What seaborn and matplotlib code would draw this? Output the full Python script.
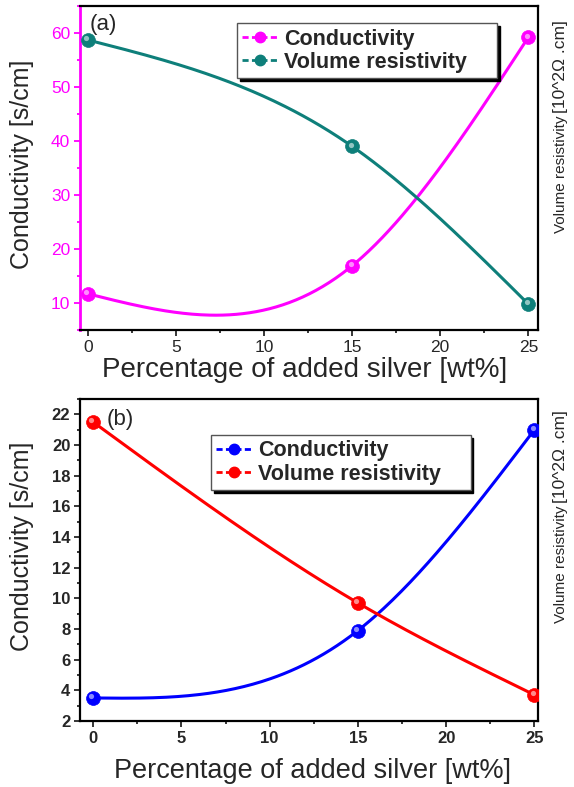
import numpy as np
import matplotlib
matplotlib.use("Agg")
import matplotlib.pyplot as plt
import matplotlib.transforms as mtransforms
from matplotlib.lines import Line2D
from matplotlib.ticker import MultipleLocator
import seaborn as sns

# === Datos ===
plata = [0, 15, 25]
cond_a = [11.7, 16.9, 59.2]
resis_a = [58.7, 39.0, 9.8]
cond_b = [3.5, 7.9, 21.0]
resis_b = [21.5, 9.7, 3.7]

ticks_x = [0, 5, 10, 15, 20, 25]
ticks_ya = [10, 20, 30, 40, 50, 60]
ticks_yb = [2, 4, 6, 8, 10, 12, 14, 16, 18, 20, 22]

sns.set_style("ticks")
plt.rcParams['font.family'] = ['Liberation Sans', 'DejaVu Sans']

MAGENTA = '#FF00FF'
TEAL = '#0E7F7A'
AZUL = '#0000FF'
ROJO = '#FF0000'


def spline_natural(x, y, n=200):
    # spline cúbico natural, como la conexión "spline" de Origin
    x = np.asarray(x, float)
    y = np.asarray(y, float)
    h = np.diff(x)
    k = len(x)
    A = np.zeros((k, k))
    r = np.zeros(k)
    A[0, 0] = A[-1, -1] = 1
    for i in range(1, k - 1):
        A[i, i - 1] = h[i - 1]
        A[i, i] = 2 * (h[i - 1] + h[i])
        A[i, i + 1] = h[i]
        r[i] = 6 * ((y[i + 1] - y[i]) / h[i] - (y[i] - y[i - 1]) / h[i - 1])
    M = np.linalg.solve(A, r)
    xs = np.linspace(x[0], x[-1], n)
    idx = np.clip(np.searchsorted(x, xs) - 1, 0, k - 2)
    x0, x1 = x[idx], x[idx + 1]
    hh = x1 - x0
    ys = ((M[idx] * (x1 - xs) ** 3 + M[idx + 1] * (xs - x0) ** 3) / (6 * hh)
          + (y[idx] / hh - M[idx] * hh / 6) * (x1 - xs)
          + (y[idx + 1] / hh - M[idx + 1] * hh / 6) * (xs - x0))
    return xs, ys


def serie(ax, fig, x, y, color):
    xs, ys = spline_natural(x, y)
    sns.lineplot(x=xs, y=ys, ax=ax, color=color, lw=2.2, sort=False, zorder=2)
    sns.scatterplot(x=x, y=y, ax=ax, color=color, s=100, edgecolor=color,
                    linewidth=0.5, zorder=3)
    brillo = mtransforms.offset_copy(ax.transData, fig=fig, x=-1.2, y=1.2, units='points')
    ax.scatter(x, y, s=14, color='white', alpha=0.55, transform=brillo,
               zorder=4, linewidths=0)


def leyenda(ax, c1, c2, x0, y0):
    h = [Line2D([], [], color=c1, ls=(0, (2.2, 1.2)), lw=2, marker='o', ms=7.5),
         Line2D([], [], color=c2, ls=(0, (2.2, 1.2)), lw=2, marker='o', ms=7.5)]
    ax.legend(h, ['Conductivity', 'Volume resistivity    '], loc='upper left',
              bbox_to_anchor=(x0, y0), borderaxespad=0, fancybox=False,
              shadow={'color': 'black', 'alpha': 1}, framealpha=1,
              edgecolor='#555555', handlelength=1.6, handletextpad=0.35,
              labelspacing=0.1, borderpad=0.25,
              prop={'weight': 'bold', 'size': 15.5})


def etiqueta_derecha(fig, y_base, y_tope):
    fig.text(0.977, 1 - y_base / 787, 'Volume resistivity', rotation=90,
             fontsize=11, ha='center', va='bottom')
    fig.text(0.977, 1 - y_tope / 787, '[10^2Ω .cm]', rotation=90,
             fontsize=12.5, ha='center', va='top')


fig = plt.figure(figsize=(5.74, 7.87), dpi=100)
ax1 = fig.add_axes([0.1394, 0.5807, 0.7979, 0.4117])
ax2 = fig.add_axes([0.1394, 0.0839, 0.7979, 0.4091])

# === Panel (a) ===
serie(ax1, fig, plata, cond_a, MAGENTA)
serie(ax1, fig, plata, resis_a, TEAL)
ax1.set_xlim(-0.45, 25.55)
ax1.set_ylim(5, 65)
ax1.set_xticks(ticks_x)
ax1.set_yticks(ticks_ya)
ax1.xaxis.set_minor_locator(MultipleLocator(2.5))
ax1.yaxis.set_minor_locator(MultipleLocator(5))
ax1.tick_params(axis='both', which='both', direction='out', width=1.3,
                labelsize=12.5, pad=3)
ax1.tick_params(which='major', length=4)
ax1.tick_params(which='minor', length=2.5)
ax1.tick_params(axis='y', which='both', colors=MAGENTA)
for s in ax1.spines.values():
    s.set_linewidth(1.6)
    s.set_color('black')
ax1.spines['left'].set_color(MAGENTA)
ax1.spines['left'].set_linewidth(2)
ax1.set_xlabel('Percentage of added silver [wt%]', fontsize=20, va='center')
ax1.xaxis.set_label_coords(0.49, -0.123)
ax1.set_ylabel('Conductivity [s/cm]', fontsize=18, va='center')
ax1.yaxis.set_label_coords(-0.127, 0.51)
ax1.text(0.02, 0.975, '(a)', transform=ax1.transAxes, fontsize=16,
         ha='left', va='top')
leyenda(ax1, MAGENTA, TEAL, 0.343, 0.947)

# === Panel (b) ===
serie(ax2, fig, plata, cond_b, AZUL)
serie(ax2, fig, plata, resis_b, ROJO)
ax2.set_xlim(-0.74, 25.2)
ax2.set_ylim(2, 23)
ax2.set_xticks(ticks_x)
ax2.set_yticks(ticks_yb)
ax2.xaxis.set_minor_locator(MultipleLocator(2.5))
ax2.yaxis.set_minor_locator(MultipleLocator(1))
ax2.tick_params(axis='both', which='both', direction='out', width=1.3,
                labelsize=12, pad=3)
ax2.tick_params(which='major', length=4)
ax2.tick_params(which='minor', length=2.5)
for lab in ax2.get_xticklabels() + ax2.get_yticklabels():
    lab.set_fontweight('bold')
for s in ax2.spines.values():
    s.set_linewidth(1.6)
    s.set_color('black')
ax2.set_xlabel('Percentage of added silver [wt%]', fontsize=19.5, va='center')
ax2.xaxis.set_label_coords(0.507, -0.155)
ax2.set_ylabel('Conductivity [s/cm]', fontsize=18, va='center')
ax2.yaxis.set_label_coords(-0.127, 0.543)
ax2.text(0.058, 0.97, '(b)', transform=ax2.transAxes, fontsize=16,
         ha='left', va='top')
leyenda(ax2, AZUL, ROJO, 0.286, 0.888)

# === Etiquetas del eje derecho ===
etiqueta_derecha(fig, 233, 20)
etiqueta_derecha(fig, 623, 410)

fig.savefig('out.png', dpi=100)
